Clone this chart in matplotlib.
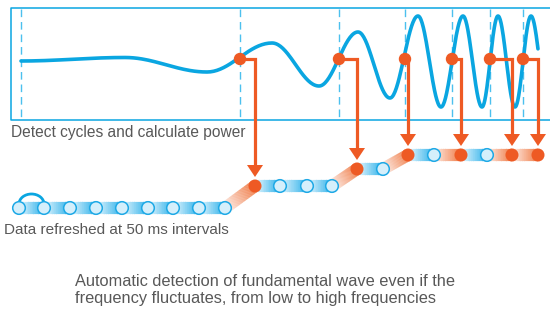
# -*- coding: utf-8 -*-
'''
Cycle detection diagram: wave, trigger points and 50 ms data refresh chain
'''
import numpy as np
import matplotlib
matplotlib.use("Agg")
import matplotlib.pyplot as plt
from matplotlib.collections import LineCollection
from matplotlib.patches import Circle, Polygon, Arc
from matplotlib.colors import to_rgb

# wave extrema (pixel coords, y grows downward)
wave_x = [21, 125, 207, 272, 319, 358, 390, 418, 441, 463, 482, 498, 515, 531, 548]
wave_y = [61, 57.5, 72, 43, 86, 32, 98, 16, 107, 16, 107, 16, 107, 16, 107]
wave_end = 538

# dashed cycle markers
dashed_x = [21, 240, 339, 405, 452, 490, 523]

# detected cycle starts and where their arrows drop
trig_x = [240, 339, 405, 452, 490, 523]
trig_y = 59
drop_x = [255, 357, 408, 461, 512, 538]

# refresh chain nodes
node_x = [19, 44, 70, 96, 122, 148, 173, 199, 225,
          255, 280, 307, 332,
          357, 383,
          408, 434, 461, 487, 512, 538]
node_y = [208] * 9 + [186] * 4 + [169] * 2 + [155] * 6
node_hit = [0] * 9 + [1, 0, 0, 0] + [1, 0] + [1, 0, 1, 0, 1, 1]

blue = '#0aa6e1'
lblue = '#4cc0ee'
orange = '#ee5a24'
grey = '#585858'

fig = plt.figure(figsize=(5.5, 3.15), dpi=100)
ax = fig.add_axes([0, 0, 1, 1])
ax.set_xlim(0, 550)
ax.set_ylim(315, 0)
ax.axis('off')

# frame (open on the right)
ax.plot([551, 11, 11, 551], [8, 8, 120, 120], color=blue, lw=1.1, zorder=1)

for x in dashed_x:
    ax.plot([x, x], [9, 119], color=lblue, lw=1.0, ls=(0, (5.5, 3.5)), zorder=1)

# wave: half cosine between extrema
xs, ys = [], []
for i in range(len(wave_x) - 1):
    t = np.linspace(0, 1, 40)
    x = wave_x[i] + (wave_x[i + 1] - wave_x[i]) * t
    y = wave_y[i] + (wave_y[i + 1] - wave_y[i]) * (1 - np.cos(np.pi * t)) / 2
    xs.extend(x)
    ys.extend(y)
xs = np.array(xs)
ys = np.array(ys)
keep = xs <= wave_end
ax.plot(xs[keep], ys[keep], color=blue, lw=2.6, solid_capstyle='round', zorder=2)

# gradient bands between chain nodes
def band(p0, p1, c0, c1, n=40):
    c0 = np.array(to_rgb(c0))
    c1 = np.array(to_rgb(c1))
    segs, cols = [], []
    for k in range(n):
        a = k / n
        b = min(1.0, (k + 1.3) / n)
        segs.append([(p0[0] + (p1[0] - p0[0]) * a, p0[1] + (p1[1] - p0[1]) * a),
                     (p0[0] + (p1[0] - p0[0]) * b, p0[1] + (p1[1] - p0[1]) * b)])
        cols.append(c0 + (c1 - c0) * (k / (n - 1)))
    lc = LineCollection(segs, colors=cols, linewidths=8.8, capstyle='butt', zorder=2)
    ax.add_collection(lc)

for i in range(len(node_x) - 1):
    p0 = (node_x[i], node_y[i])
    p1 = (node_x[i + 1], node_y[i + 1])
    if node_hit[i + 1]:
        band(p0, p1, '#fdeee7', '#f07a45')
    else:
        band(p0, p1, '#e6f6fd', '#2eb1ea')

for x, y, h in zip(node_x, node_y, node_hit):
    if h:
        ax.add_patch(Circle((x, y), 6.5, fc=orange, ec='none', zorder=4))
    else:
        ax.add_patch(Circle((x, y), 6.3, fc='#d5effb', ec='#1ea9e6', lw=1.1, zorder=4))

# arc over the first interval
ax.add_patch(Arc(((node_x[0] + node_x[1]) / 2, 204), node_x[1] - node_x[0], 20,
                 theta1=180, theta2=360, color=blue, lw=2.0, zorder=3))

# trigger dots and arrows
ny = dict(zip(node_x, node_y))
for tx, dx in zip(trig_x, drop_x):
    y_node = ny[dx]
    ax.plot([tx, dx, dx], [trig_y, trig_y, y_node - 20], color=orange, lw=2.3,
            solid_joinstyle='miter', zorder=5)
    ax.add_patch(Polygon([(dx - 8, y_node - 21), (dx + 8, y_node - 21), (dx, y_node - 9)],
                         closed=True, fc=orange, ec='none', zorder=5))
    ax.add_patch(Circle((tx, trig_y), 6.2, fc=orange, ec='none', zorder=6))

font = dict(family='Liberation Sans', color=grey)
ax.text(11, 133, 'Detect cycles and calculate power', va='center', ha='left',
        fontsize=11.2, **font)
ax.text(4, 230, 'Data refreshed at 50 ms intervals', va='center', ha='left',
        fontsize=11.0, **font)
ax.text(75, 281, 'Automatic detection of fundamental wave even if the', va='center',
        ha='left', fontsize=11.8, **font)
ax.text(75, 299, 'frequency fluctuates, from low to high frequencies', va='center',
        ha='left', fontsize=11.8, **font)

fig.savefig('out.png', dpi=100)
